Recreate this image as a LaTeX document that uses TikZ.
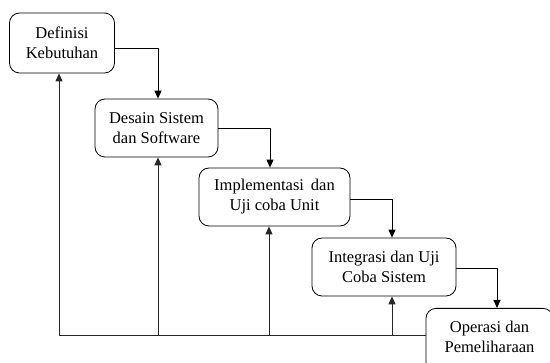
\documentclass[tikz,border=0pt]{standalone}
\usepackage{fontspec}
\setmainfont{Liberation Serif}
\usetikzlibrary{arrows.meta,calc}
\begin{document}
\begin{tikzpicture}[x=1pt,y=-1pt,
  box/.style={draw, rounded corners=10pt, align=center, inner sep=0pt,
    font=\fontsize{16.5}{20}\selectfont, line width=0.8pt},
  conn/.style={line width=0.9pt, -{Triangle[length=8pt,width=7pt]}},
  fb/.style={line width=0.9pt, draw=black!85, fill=black}]
\useasboundingbox (0,0) rectangle (550,363);
\node[box, minimum width=105pt, minimum height=60pt] (b1) at (62,43) {Definisi\\Kebutuhan};
\node[box, minimum width=123pt, minimum height=58pt] (b2) at (156.5,128) {Desain Sistem\\dan Software};
\node[box, minimum width=151pt, minimum height=58pt] (b3) at (274.5,197) {Implementasi\, dan\\Uji coba Unit};
\node[box, minimum width=144pt, minimum height=58pt] (b4) at (384,267) {Integrasi dan Uji\\Coba Sistem};
\begin{scope}
\clip (0,0) rectangle (550,363);
\node[box, minimum width=127pt, minimum height=64pt, anchor=north] (b5) at (489.5,308) {};
\end{scope}
\node[font=\fontsize{16.5}{20}\selectfont, align=center, inner sep=0pt] (t5) at (489.5,337) {Operasi dan\\Pemeliharaan};
\coordinate (d2) at (158,0);
\coordinate (d3) at (270,0);
\coordinate (d4) at (392,0);
\coordinate (d5) at (497,0);
\draw[conn] ($(b1.east)+(0,5)$) -| (d2 |- b2.north);
\draw[conn] (b2.east) -| (d3 |- b3.north);
\draw[conn] ($(b3.east)+(0,2)$) -| (d4 |- b4.north);
\draw[conn] ($(b4.east)+(0,1)$) -| (d5 |- b5.north);
\coordinate (base) at (0,335);
\coordinate (u1) at (59,0);
\coordinate (u2) at (158,0);
\coordinate (u3) at (269,0);
\coordinate (u4) at (392,0);
\draw[line width=0.9pt, draw=black!85] (b5.west |- base) -- (u1 |- base);
\draw[conn, draw=black!85] (u1 |- base) -- (u1 |- b1.south);
\draw[conn, draw=black!85] (u2 |- base) -- (u2 |- b2.south);
\draw[conn, draw=black!85] (u3 |- base) -- (u3 |- b3.south);
\draw[conn, draw=black!85] (u4 |- base) -- (u4 |- b4.south);
\end{tikzpicture}
\end{document}
